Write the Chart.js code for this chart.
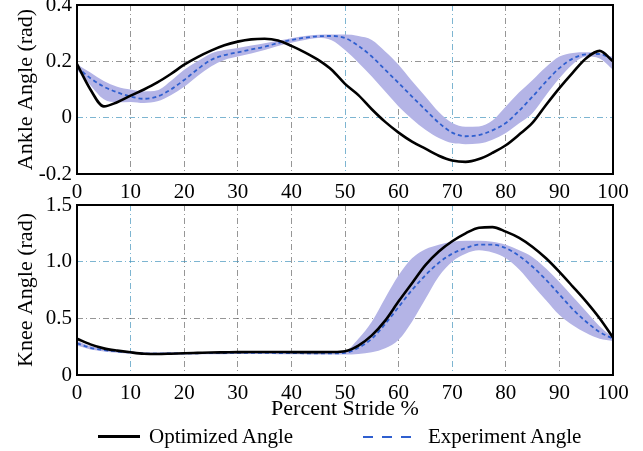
<!DOCTYPE html>
<html><head><meta charset="utf-8">
<script src="https://cdn.jsdelivr.net/npm/chart.js@4.4.1/dist/chart.umd.min.js"></script>
<style>
html,body{margin:0;padding:0;background:#fff;}
body{width:643px;height:451px;position:relative;overflow:hidden;font-family:'Liberation Serif',serif;}
canvas{position:absolute;left:0;}
#cAnkle{top:0;width:643px;height:200px;}
#cKnee{top:190px;width:643px;height:240px;}
.lgt{position:absolute;top:423px;font-size:21px;line-height:26px;color:#000;white-space:nowrap;}
.lgl{position:absolute;top:435px;height:2.5px;}
</style></head><body>
<canvas id="cAnkle" width="643" height="200"></canvas>
<canvas id="cKnee" width="643" height="240"></canvas>
<div class="lgl" id="swOpt" style="left:98px;width:42px;background:#000"></div>
<span class="lgt" id="lgOpt" style="left:149px"></span>
<div class="lgl" id="swExp" style="left:363px;width:48px;height:2px;top:436px"></div>
<span class="lgt" id="lgExp" style="left:428px"></span>
<script>
/* ── data ── */
const stride=[0,2.5,5,7.5,10,12.5,15,17.5,20,22.5,25,27.5,30,32.5,35,37.5,40,42.5,45,47.5,50,52.5,55,57.5,60,62.5,65,67.5,70,72.5,75,77.5,80,82.5,85,87.5,90,92.5,95,97.5,100];
const strideTicks=[0,10,20,30,40,50,60,70,80,90,100];
const ankleOpt=[0.19,0.10,0.04,0.055,0.078,0.10,0.125,0.155,0.188,0.215,0.238,0.257,0.27,0.278,0.28,0.274,0.255,0.232,0.205,0.17,0.12,0.08,0.03,-0.015,-0.053,-0.085,-0.11,-0.135,-0.152,-0.157,-0.147,-0.125,-0.098,-0.06,-0.018,0.045,0.105,0.16,0.211,0.237,0.2];
const ankleExp=[0.18,0.14,0.11,0.09,0.075,0.067,0.075,0.1,0.134,0.172,0.205,0.222,0.232,0.242,0.252,0.265,0.276,0.284,0.289,0.29,0.283,0.255,0.217,0.17,0.123,0.075,0.028,-0.018,-0.053,-0.066,-0.062,-0.045,-0.019,0.025,0.075,0.128,0.176,0.21,0.225,0.226,0.205];
const ankleHi=[0.19,0.16,0.13,0.11,0.1,0.093,0.097,0.13,0.17,0.2,0.228,0.24,0.247,0.256,0.264,0.273,0.282,0.29,0.294,0.295,0.295,0.29,0.276,0.235,0.188,0.13,0.075,0.02,-0.019,-0.032,-0.031,-0.01,0.04,0.09,0.134,0.18,0.217,0.23,0.232,0.23,0.215];
const ankleLo=[0.17,0.115,0.065,0.055,0.056,0.052,0.058,0.08,0.11,0.148,0.182,0.205,0.217,0.228,0.24,0.254,0.266,0.276,0.283,0.275,0.24,0.195,0.146,0.093,0.04,-0.005,-0.043,-0.072,-0.09,-0.094,-0.092,-0.078,-0.054,-0.02,0.017,0.08,0.14,0.19,0.217,0.21,0.17];
const kneeOpt=[0.32,0.27,0.235,0.215,0.2,0.188,0.185,0.188,0.192,0.195,0.198,0.2,0.202,0.203,0.203,0.203,0.202,0.202,0.202,0.203,0.21,0.26,0.35,0.48,0.65,0.81,0.97,1.09,1.18,1.25,1.3,1.305,1.265,1.21,1.13,1.03,0.91,0.78,0.647,0.5,0.33];
const kneeExp=[0.28,0.24,0.22,0.208,0.198,0.19,0.188,0.19,0.19,0.192,0.193,0.194,0.195,0.195,0.195,0.194,0.193,0.192,0.19,0.19,0.195,0.24,0.32,0.45,0.6,0.75,0.88,0.99,1.07,1.12,1.15,1.15,1.12,1.05,0.955,0.84,0.71,0.58,0.47,0.38,0.32];
const kneeHi=[0.3,0.255,0.232,0.22,0.208,0.2,0.198,0.2,0.2,0.202,0.203,0.204,0.205,0.205,0.205,0.204,0.203,0.202,0.2,0.2,0.21,0.32,0.47,0.68,0.88,1.03,1.11,1.15,1.175,1.185,1.185,1.175,1.15,1.1,1.04,0.94,0.82,0.69,0.56,0.43,0.33];
const kneeLo=[0.26,0.225,0.208,0.196,0.188,0.18,0.178,0.18,0.18,0.182,0.183,0.184,0.185,0.185,0.185,0.184,0.183,0.182,0.18,0.18,0.18,0.185,0.2,0.235,0.31,0.47,0.67,0.87,1.0,1.07,1.1,1.08,1.03,0.93,0.794,0.66,0.53,0.44,0.37,0.32,0.3];
const ankleTicks=[-0.2,0,0.2,0.4], ankleLabels=['-0.2','0','0.2','0.4'];
const kneeTicks=[0,0.5,1,1.5], kneeLabels=['0','0.5','1.0','1.5'];
const seriesNames=['Optimized Angle','Experiment Angle'];
const xTitle='Percent Stride %';

/* ── style ── */
const FONT="'Liberation Serif','Times New Roman',serif";
const OPT_C='#000', EXP_C='#2f5fcf', BAND_C='rgb(180,180,230)';
const G_GRAY='rgba(80,80,80,0.6)', G_BLUE='rgba(70,150,190,0.7)', NONE='rgba(0,0,0,0)';
Chart.defaults.font.family=FONT;Chart.defaults.font.size=21;Chart.defaults.color='#000';

const pts=ys=>stride.map((x,i)=>({x,y:ys[i]}));
const frame={id:'frame',afterDraw(c){const a=c.chartArea,g=c.ctx;g.save();g.strokeStyle='#000';g.lineWidth=2;g.strokeRect(a.left,a.top,a.right-a.left,a.bottom-a.top);g.restore();}};

function build(id,d,o){
  const el=document.getElementById(id);
  return new Chart(el,{type:'line',
    data:{datasets:[
      {label:seriesNames[0],data:pts(d.opt),borderColor:OPT_C,borderWidth:2.6,pointRadius:0,fill:false,cubicInterpolationMode:'monotone'},
      {label:seriesNames[1],data:pts(d.exp),borderColor:EXP_C,borderWidth:1.8,borderDash:[4,3],pointRadius:0,fill:false,cubicInterpolationMode:'monotone'},
      {label:'hi',data:pts(d.hi),borderWidth:0,borderColor:NONE,backgroundColor:BAND_C,pointRadius:0,fill:'+1',cubicInterpolationMode:'monotone'},
      {label:'lo',data:pts(d.lo),borderWidth:0,borderColor:NONE,pointRadius:0,fill:false,cubicInterpolationMode:'monotone'}
    ]},
    options:{responsive:false,animation:false,events:[],
      layout:{padding:{top:o.padTop,right:30,left:0,bottom:0}},
      plugins:{legend:{display:false},tooltip:{enabled:false}},
      scales:{
        x:{type:'linear',min:0,max:100,
          afterBuildTicks:s=>{s.ticks=strideTicks.map(v=>({value:v}));},
          afterFit:s=>{s.height=o.xH;s.paddingLeft=0;s.paddingRight=0;},
          grid:{drawTicks:false,lineWidth:1,color:c=>(c.tick&&o.xBlue.includes(c.tick.value))?G_BLUE:(c.tick&&(c.tick.value===0||c.tick.value===100)?NONE:G_GRAY)},
          border:{display:false,dash:[6,3,1,3]},
          ticks:{padding:6,maxRotation:0,autoSkip:false,font:{size:21}},
          title:{display:!!o.xTitle,text:o.xTitle||'',font:{size:22},padding:{top:0,bottom:8}}},
        y:{type:'linear',min:o.ticks[0],max:o.ticks[o.ticks.length-1],
          afterBuildTicks:s=>{s.ticks=o.ticks.map(v=>({value:v}));},
          afterFit:s=>{s.width=77;s.paddingTop=0;s.paddingBottom=0;},
          grid:{drawTicks:false,lineWidth:1,color:c=>{const v=c.tick&&c.tick.value;if(v===o.ticks[0]||v===o.ticks[o.ticks.length-1])return NONE;return o.yBlue.includes(v)?G_BLUE:G_GRAY;}},
          border:{display:false,dash:[6,3,1,3]},
          ticks:{padding:5,font:{size:21},callback:v=>o.labels[o.ticks.indexOf(v)]},
          title:{display:true,text:o.yTitle,font:{size:22},padding:{top:13,bottom:0}}}
      }},
    plugins:[frame]});
}

build('cAnkle',{opt:ankleOpt,exp:ankleExp,hi:ankleHi,lo:ankleLo},
  {padTop:5,xH:26,ticks:ankleTicks,labels:ankleLabels,yTitle:'Ankle Angle (rad)',xBlue:[50,70],yBlue:[0]});
build('cKnee',{opt:kneeOpt,exp:kneeExp,hi:kneeHi,lo:kneeLo},
  {padTop:15,xH:55,ticks:kneeTicks,labels:kneeLabels,yTitle:'Knee Angle (rad)',xTitle:xTitle,xBlue:[10,70],yBlue:[1]});

/* ── legend (html, under the lower plot) ── */
document.getElementById('lgOpt').textContent=seriesNames[0];
document.getElementById('lgExp').textContent=seriesNames[1];
document.getElementById('swExp').style.background='repeating-linear-gradient(90deg,'+EXP_C+' 0 10px,transparent 10px 19px)';
</script>
</body></html>
